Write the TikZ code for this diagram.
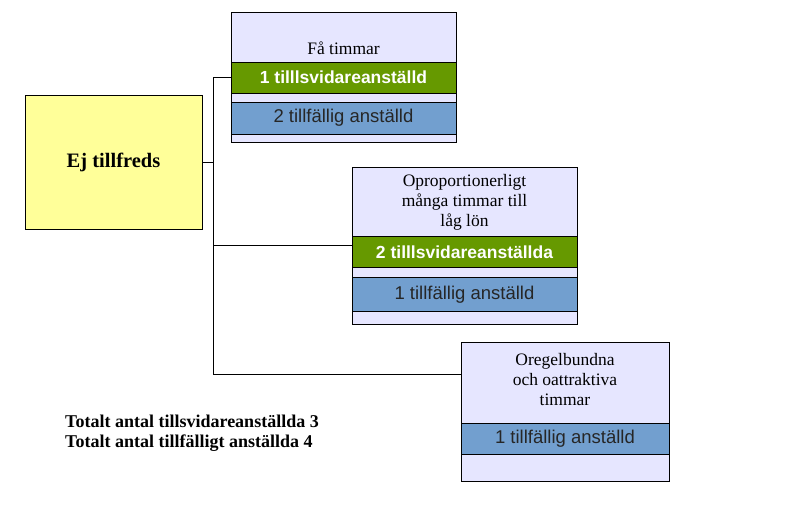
\documentclass[tikz,border=0pt]{standalone}
\usepackage{fontspec}
\setmainfont{Liberation Serif}
\setsansfont{Liberation Sans}
\usepackage{xcolor}
\usepackage{tikz}
\usetikzlibrary{positioning, calc}

\definecolor{lavender}{HTML}{E6E6FF}
\definecolor{bandgreen}{HTML}{669900}
\definecolor{bandblue}{HTML}{729FCF}
\definecolor{paleyellow}{HTML}{FFFF99}

\begin{document}
\begin{tikzpicture}[
    x=1pt, y=-1pt,
    box/.style={rectangle, draw, line width=0.8pt, fill=lavender, inner sep=0pt, outer sep=0pt},
    band/.style={rectangle, draw, line width=0.8pt, inner sep=0pt, outer sep=0pt, minimum height=#1},
    greenband/.style={band=31pt, fill=bandgreen, text=white, font=\sffamily\bfseries\fontsize{17.5}{20}\selectfont},
    blueband/.style={band=32pt, fill=bandblue, text=black!85, font=\sffamily\fontsize{18.5}{20}\selectfont},
    title/.style={align=center, font=\fontsize{17.5}{20}\selectfont, inner sep=0pt},
    link/.style={line width=0.8pt},
]
\useasboundingbox (0,0) rectangle (794,523);

% main node
\node[box, fill=paleyellow, minimum width=177pt, minimum height=134pt, font=\bfseries\fontsize{20.5}{23}\selectfont] (ej) at (113.5,162) {Ej tillfreds};

% first box
\node[box, minimum width=225pt, minimum height=130pt] (b1) at (343.5,77) {};
\node[title] (t1) at (343.5,48) {Få timmar};
\node[greenband, minimum width=225pt] (g1) at (343.5,77.5) {1 tilllsvidareanställd};
\node[blueband, minimum width=225pt] (u1) at (343.5,118) {2 tillfällig anställd};

% second box
\node[box, minimum width=225pt, minimum height=157pt] (b2) at (464.5,245.5) {};
\node[title] (t2) at (464.5,202) {Oproportionerligt\\många timmar till\\låg lön};
\node[greenband, minimum width=225pt] (g2) at (464.5,252) {2 tilllsvidareanställda};
\node[blueband, band=34pt, minimum width=225pt] (u2) at (464.5,294.5) {1 tillfällig anställd};

% third box
\node[box, minimum width=208pt, minimum height=139pt] (b3) at (565,411.5) {};
\node[title] (t3) at (565,380) {Oregelbundna\\och oattraktiva\\timmar};
\node[blueband, band=31pt, minimum width=208pt] (u3) at (565,438.5) {1 tillfällig anställd};

% tree lines
\coordinate (jt) at (213,77.5);
\coordinate (jm) at (213,245);
\coordinate (jb) at (213,374);
\draw[link] (ej.east) -- (ej.east -| jt);
\draw[link] (jt) -- (jb);
\draw[link] (jt) -- (jt -| b1.west);
\draw[link] (jm) -- (jm -| b2.west);
\draw[link] (jb) -- (jb -| b3.west);

% totals
\node[anchor=west, align=left, inner sep=0pt, font=\bfseries\fontsize{18}{20}\selectfont] (tot) at (65,433)
  {Totalt antal tillsvidareanställda 3\\Totalt antal tillfälligt anställda 4};
\end{tikzpicture}
\end{document}
